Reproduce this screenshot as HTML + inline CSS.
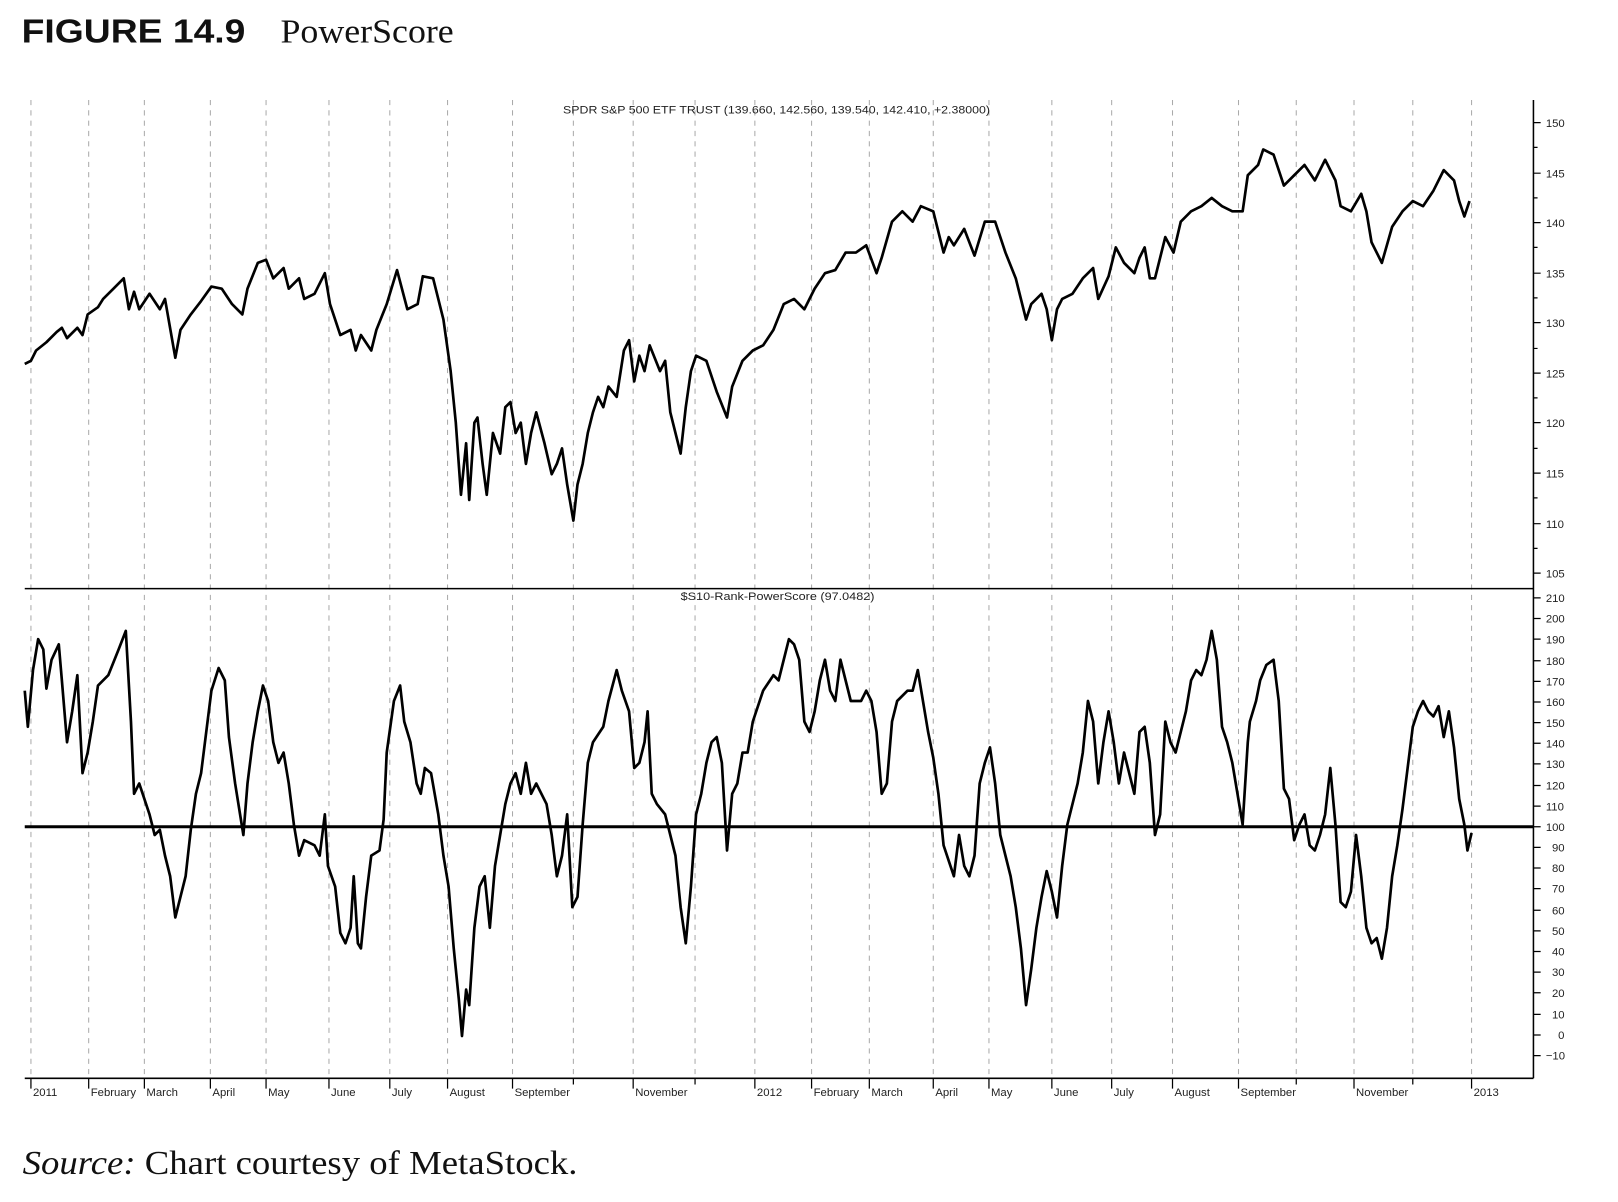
<!DOCTYPE html>
<html><head><meta charset="utf-8"><style>
html,body{margin:0;padding:0;background:#fff;}
svg{display:block}
</style></head><body>
<svg width="1618" height="1202" viewBox="0 0 1569 1166" preserveAspectRatio="none" xmlns="http://www.w3.org/2000/svg">
<rect width="1569" height="1166" fill="#fff"/>
<text x="21" y="41" font-family="Liberation Sans, sans-serif" font-weight="bold" font-size="32" fill="#111" textLength="217" lengthAdjust="spacingAndGlyphs">FIGURE 14.9</text>
<text x="272" y="41" font-family="Liberation Serif, serif" font-size="33" fill="#111" textLength="168" lengthAdjust="spacingAndGlyphs">PowerScore</text>
<g stroke="#aaa" stroke-width="1" stroke-dasharray="5,5">
<line x1="30" y1="97" x2="30" y2="1046"/><line x1="86" y1="97" x2="86" y2="1046"/><line x1="140" y1="97" x2="140" y2="1046"/><line x1="204" y1="97" x2="204" y2="1046"/><line x1="258" y1="97" x2="258" y2="1046"/><line x1="319" y1="97" x2="319" y2="1046"/><line x1="378" y1="97" x2="378" y2="1046"/><line x1="434" y1="97" x2="434" y2="1046"/><line x1="497" y1="97" x2="497" y2="1046"/><line x1="556" y1="97" x2="556" y2="1046"/><line x1="614" y1="97" x2="614" y2="1046"/><line x1="674" y1="97" x2="674" y2="1046"/><line x1="732" y1="97" x2="732" y2="1046"/><line x1="787" y1="97" x2="787" y2="1046"/><line x1="843" y1="97" x2="843" y2="1046"/><line x1="905" y1="97" x2="905" y2="1046"/><line x1="959" y1="97" x2="959" y2="1046"/><line x1="1020" y1="97" x2="1020" y2="1046"/><line x1="1078" y1="97" x2="1078" y2="1046"/><line x1="1137" y1="97" x2="1137" y2="1046"/><line x1="1201" y1="97" x2="1201" y2="1046"/><line x1="1257" y1="97" x2="1257" y2="1046"/><line x1="1313" y1="97" x2="1313" y2="1046"/><line x1="1370" y1="97" x2="1370" y2="1046"/><line x1="1427" y1="97" x2="1427" y2="1046"/>
</g>
<g stroke="#000" stroke-width="1.5" fill="none">
<line x1="1487" y1="97" x2="1487" y2="1046"/>
<line x1="24" y1="571" x2="1487" y2="571"/>
<line x1="24" y1="1046" x2="1487" y2="1046"/>
</g>
<g stroke="#000" stroke-width="1.2">
<path d="M1487 119h7M1487 168h7M1487 216h7M1487 265h7M1487 313h7M1487 362h7M1487 410h7M1487 459h7M1487 508h7M1487 556h7"/>
<path d="M1487 143h4M1487 192h4M1487 240h4M1487 289h4M1487 338h4M1487 386h4M1487 435h4M1487 483h4M1487 532h4"/>
<path d="M1487 580h7M1487 600h7M1487 620h7M1487 641h7M1487 661h7M1487 681h7M1487 701h7M1487 721h7M1487 741h7M1487 762h7M1487 782h7M1487 802h7M1487 822h7M1487 842h7M1487 862h7M1487 883h7M1487 903h7M1487 923h7M1487 943h7M1487 963h7M1487 984h7M1487 1004h7M1487 1024h7"/>
<path d="M30 1046v10M86 1046v10M140 1046v10M204 1046v10M258 1046v10M319 1046v10M378 1046v10M434 1046v10M497 1046v10M556 1046v6M614 1046v10M674 1046v6M732 1046v10M787 1046v10M843 1046v10M905 1046v10M959 1046v10M1020 1046v10M1078 1046v10M1137 1046v10M1201 1046v10M1257 1046v6M1313 1046v10M1370 1046v6M1427 1046v10"/>
</g>
<g font-family="Liberation Sans, sans-serif" font-size="11" fill="#222">
<text x="1499" y="123">150</text><text x="1499" y="172">145</text><text x="1499" y="220">140</text><text x="1499" y="269">135</text><text x="1499" y="317">130</text><text x="1499" y="366">125</text><text x="1499" y="414">120</text><text x="1499" y="463">115</text><text x="1499" y="512">110</text><text x="1499" y="560">105</text>
<text x="1499" y="584">210</text><text x="1499" y="604">200</text><text x="1499" y="624">190</text><text x="1499" y="645">180</text><text x="1499" y="665">170</text><text x="1499" y="685">160</text><text x="1499" y="705">150</text><text x="1499" y="725">140</text><text x="1499" y="745">130</text><text x="1499" y="766">120</text><text x="1499" y="786">110</text><text x="1499" y="806">100</text><text x="1505" y="826">90</text><text x="1505" y="846">80</text><text x="1505" y="866">70</text><text x="1505" y="887">60</text><text x="1505" y="907">50</text><text x="1505" y="927">40</text><text x="1505" y="947">30</text><text x="1505" y="967">20</text><text x="1505" y="988">10</text><text x="1511" y="1008">0</text><text x="1499" y="1028">−10</text>
<text x="32" y="1063">2011</text><text x="88" y="1063">February</text><text x="142" y="1063">March</text><text x="206" y="1063">April</text><text x="260" y="1063">May</text><text x="321" y="1063">June</text><text x="380" y="1063">July</text><text x="436" y="1063">August</text><text x="499" y="1063">September</text><text x="616" y="1063">November</text><text x="734" y="1063">2012</text><text x="789" y="1063">February</text><text x="845" y="1063">March</text><text x="907" y="1063">April</text><text x="961" y="1063">May</text><text x="1022" y="1063">June</text><text x="1080" y="1063">July</text><text x="1139" y="1063">August</text><text x="1203" y="1063">September</text><text x="1315" y="1063">November</text><text x="1429" y="1063">2013</text>
<text x="546" y="110" font-size="10.5" textLength="414" lengthAdjust="spacingAndGlyphs">SPDR S&amp;P 500 ETF TRUST (139.660, 142.560, 139.540, 142.410, +2.38000)</text>
<text x="660" y="582" font-size="10.5" textLength="188" lengthAdjust="spacingAndGlyphs">$S10-Rank-PowerScore (97.0482)</text>
</g>
<line x1="24" y1="802" x2="1487" y2="802" stroke="#000" stroke-width="3"/>
<polyline fill="none" stroke="#000" stroke-width="2.6" stroke-linejoin="round" points="24,353 30,350 35,340 45,332 55,322 60,318 65,328 75,318 80,325 85,305 95,298 100,290 110,280 120,270 125,300 130,283 135,300 145,285 155,300 160,290 170,347 175,320 185,305 195,292 205,278 215,280 225,295 235,305 240,280 250,255 258,252 265,270 275,260 280,280 290,270 295,290 305,285 315,265 320,295 330,325 340,320 345,340 350,325 360,340 365,320 375,295 385,262 395,300 405,295 410,268 420,270 430,310 437,360 442,410 447,480 452,430 455,485 460,410 463,405 468,450 472,480 478,420 485,440 490,395 495,390 500,420 505,410 510,450 515,420 520,400 528,430 535,460 540,450 545,435 550,470 556,505 560,470 565,450 570,420 575,400 580,385 585,395 590,375 598,385 605,340 610,330 615,370 620,345 625,360 630,335 640,360 645,350 650,400 660,440 665,395 670,360 675,345 685,350 695,380 705,405 710,375 720,350 730,340 740,335 750,320 760,295 770,290 780,300 790,280 800,265 810,262 820,245 830,245 840,238 850,265 855,250 865,215 875,205 885,215 893,200 905,205 915,245 920,230 925,238 935,222 945,248 955,215 965,215 975,245 985,270 995,310 1000,295 1010,285 1015,300 1020,330 1025,300 1030,290 1040,285 1050,270 1060,260 1065,290 1075,268 1082,240 1090,255 1100,265 1105,250 1110,240 1115,270 1120,270 1130,230 1138,245 1145,215 1155,205 1165,200 1175,192 1185,200 1195,205 1205,205 1210,170 1220,160 1225,145 1235,150 1245,180 1255,170 1265,160 1275,175 1285,155 1295,175 1300,200 1310,205 1320,188 1325,205 1330,235 1340,255 1350,220 1360,205 1370,195 1380,200 1390,185 1400,165 1410,175 1415,195 1420,210 1425,195"/>
<polyline fill="none" stroke="#000" stroke-width="2.6" stroke-linejoin="round" points="24,670 27,705 32,650 37,620 42,630 45,668 50,640 57,625 60,660 65,720 70,690 75,655 80,750 85,730 90,700 95,665 105,655 115,630 122,612 127,700 130,770 135,760 145,790 150,810 155,805 160,830 165,850 170,890 175,870 180,850 185,805 190,770 195,750 200,710 205,670 212,648 218,660 222,715 228,760 236,810 240,760 245,720 250,690 255,665 260,680 265,720 270,740 275,730 280,760 285,800 290,830 295,815 305,820 310,830 315,790 318,840 325,860 330,905 335,915 340,900 343,850 347,915 350,920 355,870 360,830 368,825 372,795 375,730 382,680 388,665 392,700 398,720 404,760 408,770 412,745 418,750 425,790 430,830 435,860 440,920 445,970 448,1005 452,960 455,975 460,900 465,860 470,850 475,900 480,840 485,810 490,780 495,760 500,750 505,770 510,740 515,770 520,760 530,780 535,810 540,850 545,830 550,790 555,880 560,870 565,800 570,740 575,720 585,705 590,680 598,650 603,670 610,690 615,745 620,740 625,720 628,690 632,770 637,780 645,790 655,830 660,880 665,915 670,860 675,790 680,770 685,740 690,720 695,715 700,740 705,825 710,770 715,760 720,730 725,730 730,700 740,670 750,655 755,660 760,640 765,620 770,625 775,640 780,700 785,710 790,690 795,660 800,640 805,670 810,680 815,640 820,660 825,680 835,680 840,670 845,680 850,710 855,770 860,760 865,700 870,680 880,670 885,670 890,650 895,680 900,710 905,735 910,770 915,820 920,835 925,850 930,810 935,840 940,850 945,830 950,760 955,740 960,725 965,760 970,810 975,830 980,850 985,880 990,920 995,975 1000,940 1005,900 1010,870 1015,845 1020,865 1025,890 1030,840 1035,800 1040,780 1045,760 1050,730 1055,680 1060,700 1065,760 1070,720 1075,690 1080,720 1085,760 1090,730 1095,750 1100,770 1105,710 1110,705 1115,740 1120,810 1125,790 1130,700 1135,720 1140,730 1145,710 1150,690 1155,660 1160,650 1165,655 1170,640 1175,612 1180,640 1185,705 1190,720 1195,740 1200,770 1205,800 1210,720 1212,700 1218,680 1222,660 1228,645 1235,640 1240,680 1245,765 1250,775 1255,815 1260,800 1265,790 1270,820 1275,825 1280,810 1285,790 1290,745 1295,800 1300,875 1305,880 1310,865 1315,810 1320,850 1325,900 1330,915 1335,910 1340,930 1345,900 1350,850 1355,820 1360,785 1365,745 1370,705 1375,690 1380,680 1385,690 1390,695 1395,685 1400,715 1405,690 1410,725 1415,775 1420,800 1423,825 1427,808"/>
<text x="22" y="1139" font-family="Liberation Serif, serif" font-size="33" fill="#111" textLength="538" lengthAdjust="spacingAndGlyphs"><tspan font-style="italic">Source:</tspan> Chart courtesy of MetaStock.</text>
</svg>
</body></html>
